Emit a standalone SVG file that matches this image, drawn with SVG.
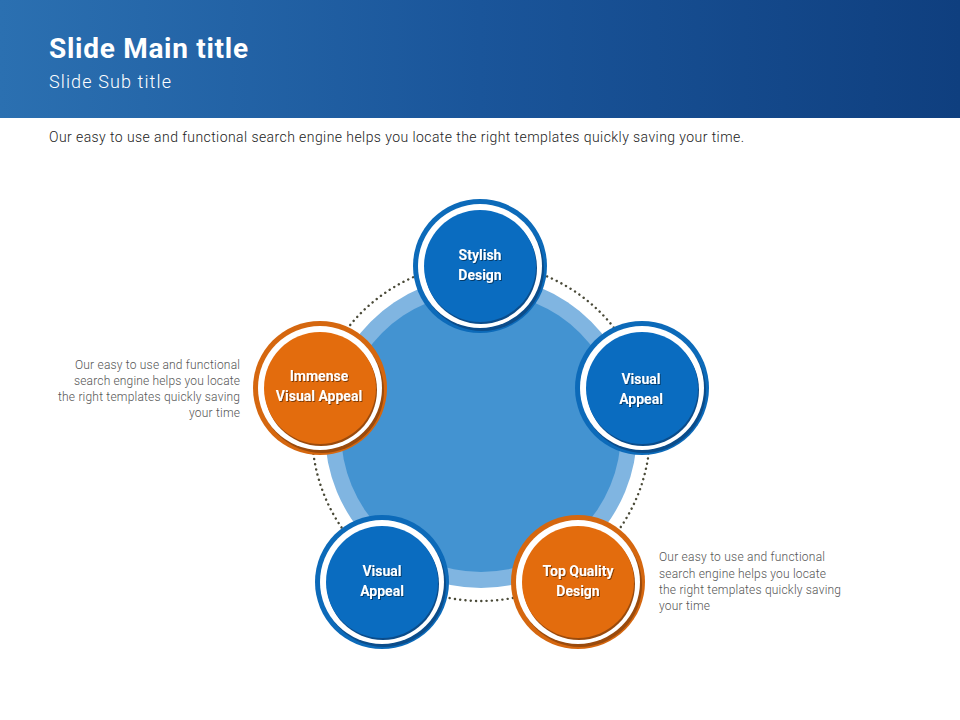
<svg xmlns="http://www.w3.org/2000/svg" width="960" height="720" viewBox="0 0 960 720">
<defs>
<linearGradient id="hdr" x1="0" y1="0" x2="1" y2="0">
<stop offset="0" stop-color="#2b70b1"/>
<stop offset="0.5" stop-color="#1a559a"/>
<stop offset="1" stop-color="#0f3f7f"/>
</linearGradient>
<filter id="ts" x="-10%" y="-10%" width="120%" height="130%">
<feDropShadow dx="1" dy="1" stdDeviation="0.6" flood-color="#000" flood-opacity="0.45"/>
</filter>
</defs>
<style>
.title{font-family:Roboto,"Noto Sans",sans-serif;font-weight:700;font-size:28px;fill:#fff}
.sub{font-family:Roboto,"Noto Sans",sans-serif;font-weight:300;font-size:18px;fill:#fff}
.body{font-family:Roboto,"Noto Sans",sans-serif;font-weight:300;font-size:14px;fill:#222}
.side{font-family:Roboto,"Noto Sans",sans-serif;font-weight:300;font-size:12px;fill:#555}
.lbl{font-family:Roboto,"Noto Sans",sans-serif;font-weight:700;font-size:14px;fill:#fff;text-anchor:middle}
.ringB{fill:#0c6ab9}
.shB{fill:#0b4c8a}
.coreB{fill:#0a6cc0}
.ringO{fill:#d5670f}
.shO{fill:#9a4a0c}
.coreO{fill:#e36c0d}
.white{fill:#fff}
</style>
<rect x="0" y="0" width="960" height="118" fill="url(#hdr)"/>
<text class="title" x="49" y="58" textLength="199" lengthAdjust="spacing">Slide Main title</text>
<text class="sub" x="49" y="88" textLength="122" lengthAdjust="spacing">Slide Sub title</text>
<text class="body" x="49" y="142" textLength="695" lengthAdjust="spacing">Our easy to use and functional search engine helps you locate the right templates quickly saving your time.</text>

<g id="hub">
<circle cx="481" cy="432" r="169" fill="none" stroke="#4a4a38" stroke-width="2.4" stroke-dasharray="0.1 5.2" stroke-linecap="round"/>
<circle cx="481" cy="432" r="156" fill="#80b5e1"/>
<circle cx="481" cy="432" r="140" fill="#4393d1"/>
</g>

<g id="connectors"></g>

<g id="node-top">
<circle class="ringB" cx="480" cy="266" r="67"/>
<circle class="shB" cx="482" cy="269" r="62"/>
<circle class="white" cx="480" cy="266" r="62"/>
<circle class="shB" cx="481" cy="268" r="56"/>
<circle class="coreB" cx="480" cy="266" r="56"/>
<text class="lbl" filter="url(#ts)" x="480" y="260">Stylish</text>
<text class="lbl" filter="url(#ts)" x="480" y="280">Design</text>
</g>

<g id="node-right">
<circle class="ringB" cx="642" cy="388" r="67"/>
<circle class="shB" cx="644" cy="391" r="62"/>
<circle class="white" cx="642" cy="388" r="62"/>
<circle class="shB" cx="643" cy="390" r="56"/>
<circle class="coreB" cx="642" cy="388" r="56"/>
<text class="lbl" filter="url(#ts)" x="641" y="384">Visual</text>
<text class="lbl" filter="url(#ts)" x="641" y="404">Appeal</text>
</g>

<g id="node-bottom-right">
<circle class="ringO" cx="578" cy="582" r="67"/>
<circle class="shO" cx="580" cy="585" r="62"/>
<circle class="white" cx="578" cy="582" r="62"/>
<circle class="shO" cx="579" cy="584" r="56"/>
<circle class="coreO" cx="578" cy="582" r="56"/>
<text class="lbl" filter="url(#ts)" x="578" y="576">Top Quality</text>
<text class="lbl" filter="url(#ts)" x="578" y="596">Design</text>
</g>

<g id="node-bottom-left">
<circle class="ringB" cx="382" cy="582" r="67"/>
<circle class="shB" cx="384" cy="585" r="62"/>
<circle class="white" cx="382" cy="582" r="62"/>
<circle class="shB" cx="383" cy="584" r="56"/>
<circle class="coreB" cx="382" cy="582" r="56"/>
<text class="lbl" filter="url(#ts)" x="382" y="576">Visual</text>
<text class="lbl" filter="url(#ts)" x="382" y="596">Appeal</text>
</g>

<g id="node-left">
<circle class="ringO" cx="320" cy="388" r="67"/>
<circle class="shO" cx="322" cy="391" r="62"/>
<circle class="white" cx="320" cy="388" r="62"/>
<circle class="shO" cx="321" cy="390" r="56"/>
<circle class="coreO" cx="320" cy="388" r="56"/>
<text class="lbl" filter="url(#ts)" x="319" y="381">Immense</text>
<text class="lbl" filter="url(#ts)" x="319" y="401">Visual Appeal</text>
</g>

<g id="note-left" class="side" text-anchor="end">
<text x="240" y="369" textLength="165" lengthAdjust="spacing">Our easy to use and functional</text>
<text x="240" y="385" textLength="166" lengthAdjust="spacing">search engine helps you locate</text>
<text x="240" y="401" textLength="182" lengthAdjust="spacing">the right templates quickly saving</text>
<text x="240" y="417" textLength="51" lengthAdjust="spacing">your time</text>
</g>

<g id="note-right" class="side">
<text x="659" y="561" textLength="166" lengthAdjust="spacing">Our easy to use and functional</text>
<text x="659" y="578" textLength="167" lengthAdjust="spacing">search engine helps you locate</text>
<text x="659" y="594" textLength="182" lengthAdjust="spacing">the right templates quickly saving</text>
<text x="659" y="610" textLength="51" lengthAdjust="spacing">your time</text>
</g>
</svg>
